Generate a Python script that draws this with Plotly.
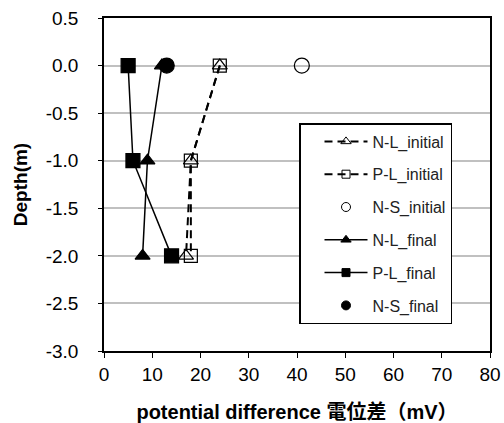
import plotly.graph_objects as go

depth = [0.0, -1.0, -2.0]
nl_initial = [24, 18, 17]
pl_initial = [24, 18, 18]
ns_initial_x = [41]
ns_initial_y = [0.0]
nl_final = [12, 9, 8]
pl_final = [5, 6, 14]
ns_final_x = [13]
ns_final_y = [0.0]

series_names = ["N-L_initial", "P-L_initial", "N-S_initial", "N-L_final", "P-L_final", "N-S_final"]

x_ticks = [0, 10, 20, 30, 40, 50, 60, 70, 80]
y_ticks = [0.5, 0.0, -0.5, -1.0, -1.5, -2.0, -2.5, -3.0]
y_ticklabels = ["0.5", "0.0", "-0.5", "-1.0", "-1.5", "-2.0", "-2.5", "-3.0"]

FONT = "Liberation Sans, Arial, Noto Sans CJK JP, sans-serif"
DASH = "8px,5px"

styles = [
    dict(mode="lines+markers", line=dict(color="black", width=2, dash=DASH), symbol="triangle-up-open", size=13, msize=9),
    dict(mode="lines+markers", line=dict(color="black", width=2, dash=DASH), symbol="square-open", size=13, msize=8),
    dict(mode="markers", line=None, symbol="circle-open", size=15, msize=9),
    dict(mode="lines+markers", line=dict(color="black", width=1.5), symbol="triangle-up", size=13, msize=9),
    dict(mode="lines+markers", line=dict(color="black", width=1.5), symbol="square", size=14, msize=8),
    dict(mode="markers", line=None, symbol="circle", size=15, msize=9),
]
data = [
    (nl_initial, depth),
    (pl_initial, depth),
    (ns_initial_x, ns_initial_y),
    (nl_final, depth),
    (pl_final, depth),
    (ns_final_x, ns_final_y),
]

fig = go.Figure()
for name, st, (xs, ys) in zip(series_names, styles, data):
    kw = {}
    if st["line"] is not None:
        kw["line"] = st["line"]
    fig.add_trace(go.Scatter(x=xs, y=ys, name=name, mode=st["mode"], showlegend=False,
                             marker=dict(symbol=st["symbol"], size=st["size"], color="black",
                                         line=dict(width=1.2, color="black")), **kw))
# legend entries with smaller symbols
for i, (name, st) in enumerate(zip(series_names, styles)):
    kw = {}
    if st["line"] is not None:
        kw["line"] = st["line"]
    fig.add_trace(go.Scatter(x=[None], y=[None], name=name, mode=st["mode"], showlegend=True,
                             legendgroup="g%d" % i,
                             marker=dict(symbol=st["symbol"], size=st["msize"], color="black",
                                         line=dict(width=1, color="black")), **kw))

fig.update_layout(
    width=504, height=423,
    margin=dict(l=104, r=14, t=18, b=72),
    paper_bgcolor="white", plot_bgcolor="white",
    font=dict(family=FONT, size=19, color="black"),
    showlegend=True,
    legend=dict(x=(299 - 104) / 386, y=(351 - 123) / 333, xanchor="left", yanchor="top",
                bgcolor="white", bordercolor="black", borderwidth=1.5,
                font=dict(family=FONT, size=16, color="#222"),
                tracegroupgap=9, traceorder="grouped",
                indentation=19, itemwidth=43, entrywidth=90),
    xaxis=dict(range=[0, 80], tickvals=x_ticks, showgrid=False, zeroline=False, automargin=False,
               showline=True, linecolor="black", linewidth=1.5, mirror=True,
               ticks="outside", ticklen=5, tickcolor="black", ticklabelstandoff=0,
               title=dict(text="<b>potential difference 電位差（mV）</b>", font=dict(size=20), standoff=22)),
    yaxis=dict(range=[-3.0, 0.5], tickvals=y_ticks, ticktext=y_ticklabels, automargin=False,
               showgrid=True, gridcolor="#c0c0c0", gridwidth=1.5, zeroline=False,
               showline=True, linecolor="black", linewidth=1.5, mirror=True,
               ticks="outside", ticklen=4, tickcolor="black", ticklabelstandoff=16,
               title=dict(text="<b>Depth(m)</b>", font=dict(size=19), standoff=13)),
)

fig.write_html("out.html")
